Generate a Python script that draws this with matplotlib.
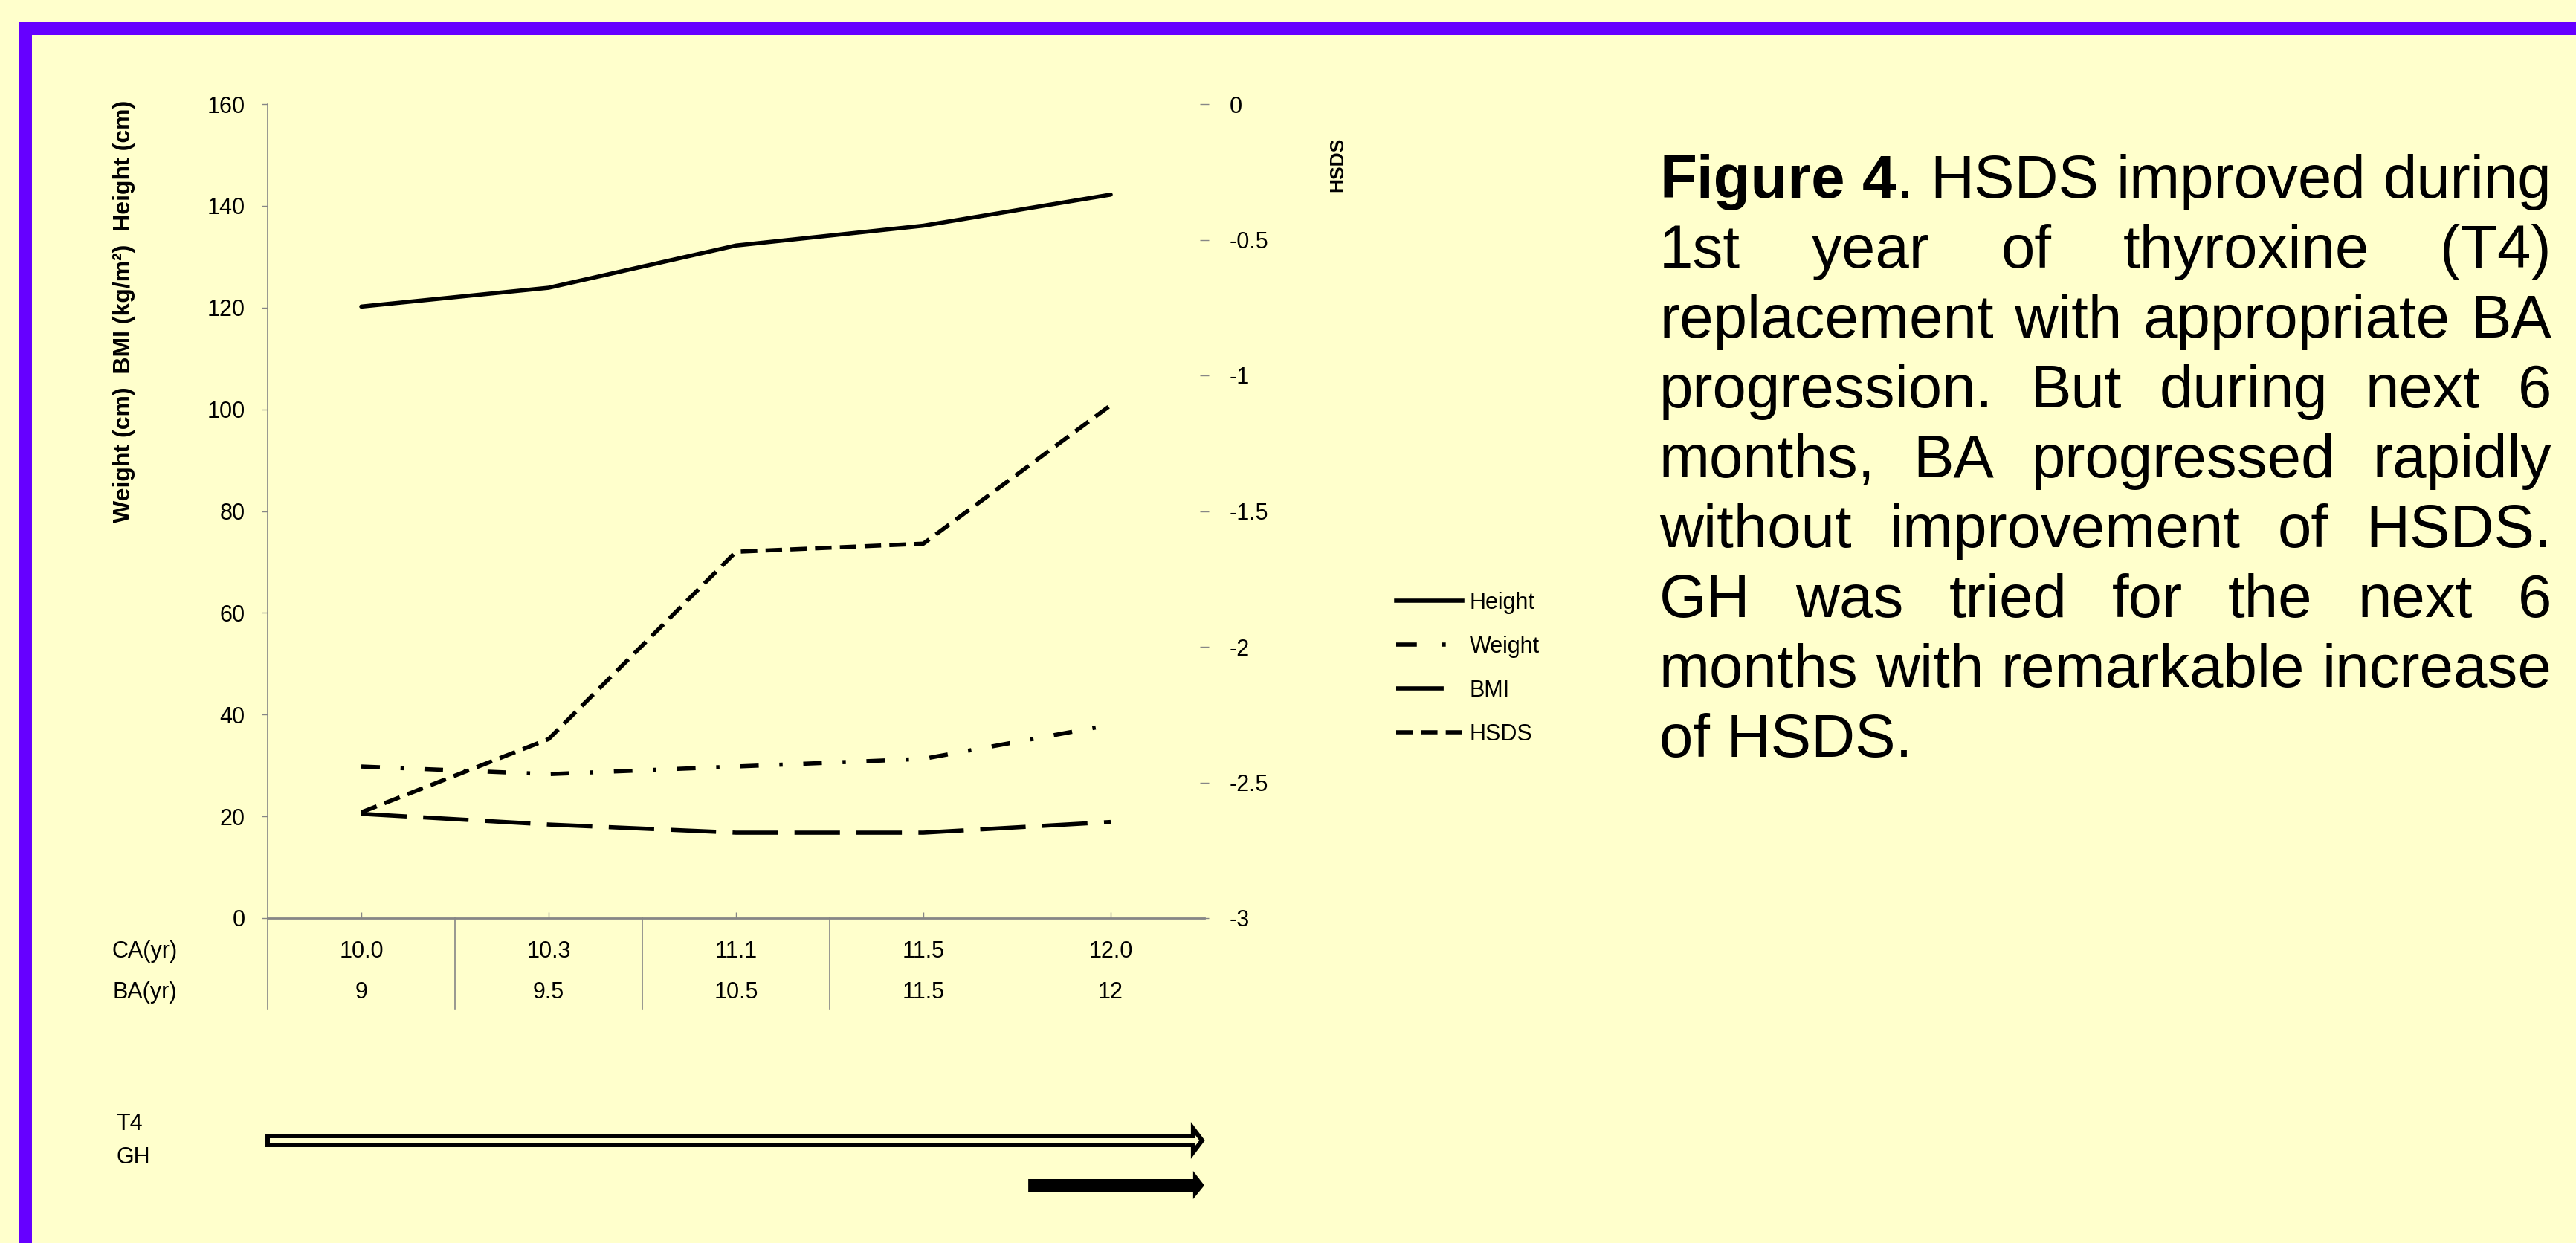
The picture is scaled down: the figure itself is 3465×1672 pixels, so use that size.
import matplotlib
matplotlib.use("Agg")
import matplotlib.pyplot as plt
import matplotlib.transforms as mtransforms
from matplotlib.patches import Rectangle, Polygon
from matplotlib.lines import Line2D
import numpy as np

# chart data
ca_labels = ["10.0", "10.3", "11.1", "11.5", "12.0"]
ba_labels = ["9", "9.5", "10.5", "11.5", "12"]
height = [120.2, 123.9, 132.2, 136.1, 142.2]
weight = [29.8, 28.3, 29.8, 31.3, 38.0]
bmi = [20.5, 18.4, 16.8, 16.8, 18.9]
hsds = [-2.61, -2.34, -1.65, -1.62, -1.11]

left_ticks = [0, 20, 40, 60, 80, 100, 120, 140, 160]
right_ticks = [0, -0.5, -1, -1.5, -2, -2.5, -3]
right_tick_labels = ["0", "-0.5", "-1", "-1.5", "-2", "-2.5", "-3"]

# treatment periods, in category units of the x axis
t4_span = (-0.5, 4.5)
gh_span = (3.56, 4.5)

caption_lines = [
    "Figure 4. HSDS improved during",
    "1st year of thyroxine (T4)",
    "replacement with appropriate BA",
    "progression. But during next 6",
    "months, BA progressed rapidly",
    "without improvement of HSDS.",
    "GH was tried for the next 6",
    "months with remarkable increase",
    "of HSDS.",
]

W, H = 3465, 1672
BG = "#FFFFCC"
PURPLE = "#6600FF"
AXCOL = "#868686"

plt.rcParams["font.family"] = ["Liberation Sans", "DejaVu Sans"]
plt.rcParams["axes.unicode_minus"] = False

fig = plt.figure(figsize=(W / 100, H / 100), dpi=100, facecolor=BG)


def fx(px):
    return px / W


def fy(py):
    return 1 - py / H


# purple frame (left + top only)
fig.patches.append(Rectangle((fx(25), 0), fx(43) - fx(25), fy(29), transform=fig.transFigure,
                             facecolor=PURPLE, edgecolor="none"))
fig.patches.append(Rectangle((fx(25), fy(47)), 1 - fx(25), fy(29) - fy(47), transform=fig.transFigure,
                             facecolor=PURPLE, edgecolor="none"))

ax = fig.add_axes([fx(360), fy(1235), fx(1620) - fx(360), fy(140) - fy(1235)])
ax.set_facecolor("none")
x = np.arange(len(ca_labels))

ax.plot(x, height, color="black", lw=4, solid_capstyle="round", label="Height")
ax.plot(x, weight, color="black", lw=4, dashes=(4.5, 5, 0.8, 5), dash_capstyle="butt", label="Weight")
ax.plot(x, bmi, color="black", lw=4, dashes=(11, 4), dash_capstyle="butt", label="BMI")

ax2 = ax.twinx()
ax2.plot(x, hsds, color="black", lw=4, dashes=(4, 2), dash_capstyle="butt", label="HSDS")

for s in ["top", "right"]:
    ax.spines[s].set_visible(False)
for s in ax2.spines.values():
    s.set_visible(False)
ax.spines["left"].set_color(AXCOL)
ax.spines["left"].set_linewidth(1.2)
ax.spines["bottom"].set_color(AXCOL)
ax.spines["bottom"].set_linewidth(2)

ax.set_yticks(left_ticks)
ax.tick_params(axis="y", direction="out", length=6, width=1, color=AXCOL, labelsize=22, pad=16)
ax.set_xticks(x)
ax.tick_params(axis="x", direction="in", length=6, width=1, color=AXCOL, labelbottom=False)
ax2.set_yticks(right_ticks)
ax2.set_yticklabels(right_tick_labels)
ax2.tick_params(axis="y", direction="inout", length=8, width=1, color=AXCOL, labelsize=22, pad=20)

# CA / BA table under the axis
trans = mtransforms.blended_transform_factory(ax.transData, ax.transAxes)
for i in range(len(ca_labels)):
    ax.text(x[i], -0.041, ca_labels[i], transform=trans, ha="center", va="center", fontsize=22)
    ax.text(x[i], -0.091, ba_labels[i], transform=trans, ha="center", va="center", fontsize=22)
for xb in [-0.5, 0.5, 1.5, 2.5]:
    ax.add_line(Line2D([xb, xb], [0, -0.111], transform=trans, color=AXCOL, lw=1.2, clip_on=False))
fig.text(fx(151), fy(1280), "CA(yr)", ha="left", va="center", fontsize=22)
fig.text(fx(151), fy(1335), "BA(yr)", ha="left", va="center", fontsize=22)

ax.set_xlim(-0.5, 4.5)
ax.set_ylim(0, 160)
ax2.set_ylim(-3, 0)

# axis titles
fig.text(fx(167), fy(419), "Weight (cm)  BMI (kg/m²)  Height (cm)", rotation=90,
         ha="center", va="center", fontsize=23, fontweight="bold")
fig.text(fx(1799), fy(221), "HSDS", rotation=90, ha="center", va="center",
         fontsize=19, fontweight="bold")

# legend (own handles so the short samples show the dash patterns like the original)
handles = [
    Line2D([], [], color="black", lw=4),
    Line2D([], [], color="black", lw=4, dashes=(5, 6, 1, 12), dash_capstyle="butt"),
    Line2D([], [], color="black", lw=4, dashes=(11.5, 8), dash_capstyle="butt"),
    Line2D([], [], color="black", lw=4, dashes=(4, 2), dash_capstyle="butt"),
]
fig.legend(handles, ["Height", "Weight", "BMI", "HSDS"], loc="upper left",
           bbox_to_anchor=(fx(1878), fy(796)), frameon=False, fontsize=22,
           handlelength=2.9, handletextpad=0.33, labelspacing=0.95, borderpad=0, borderaxespad=0)

# treatment arrows
tarr = mtransforms.blended_transform_factory(ax.transData, fig.transFigure)
head = 0.06
t0, t1 = t4_span
y_top, y_bot = fy(1528), fy(1540)
verts = [(t0, y_top), (t1 - head, y_top), (t1 - head, fy(1518)), (t1 - 0.012, fy(1534)),
         (t1 - head, fy(1550)), (t1 - head, y_bot), (t0, y_bot)]
fig.patches.append(Polygon(verts, closed=True, transform=tarr, facecolor=BG, edgecolor="black", lw=4.3))
g0, g1 = gh_span
verts = [(g0, fy(1586)), (g1 - head, fy(1586)), (g1 - head, fy(1575)), (g1, fy(1594.5)),
         (g1 - head, fy(1613)), (g1 - head, fy(1603)), (g0, fy(1603))]
fig.patches.append(Polygon(verts, closed=True, transform=tarr, facecolor="black", edgecolor="none"))
fig.text(fx(156), fy(1512), "T4", ha="left", va="center", fontsize=22)
fig.text(fx(156), fy(1557), "GH", ha="left", va="center", fontsize=22)

# justified caption
renderer = fig.canvas.get_renderer()
cap_left, cap_right = 2232, 3432
cap_size = 58.8
for i, line in enumerate(caption_lines):
    yb = fy(266 + 94 * i)
    if i == len(caption_lines) - 1:
        fig.text(fx(cap_left), yb, line, fontsize=cap_size, va="baseline", ha="left")
        continue
    words = []
    for w in line.split(" "):
        if i == 0 and w == "Figure":
            words.append([("Figure", "bold")])
        elif i == 0 and w == "4.":
            words.append([("4", "bold"), (".", "normal")])
        else:
            words.append([(w, "normal")])
    arts = []
    total = 0
    for w in words:
        parts = []
        wsum = 0
        for txt, fw in w:
            t = fig.text(0, yb, txt, fontsize=cap_size, fontweight=fw, va="baseline", ha="left")
            wd = t.get_window_extent(renderer).width
            parts.append((t, wd))
            wsum += wd
        arts.append(parts)
        total += wsum
    gap = (cap_right - cap_left - total) / (len(words) - 1)
    xp = cap_left
    for parts in arts:
        for t, wd in parts:
            t.set_x(fx(xp))
            xp += wd
        xp += gap

fig.savefig("out.png", dpi=100, facecolor=BG)
